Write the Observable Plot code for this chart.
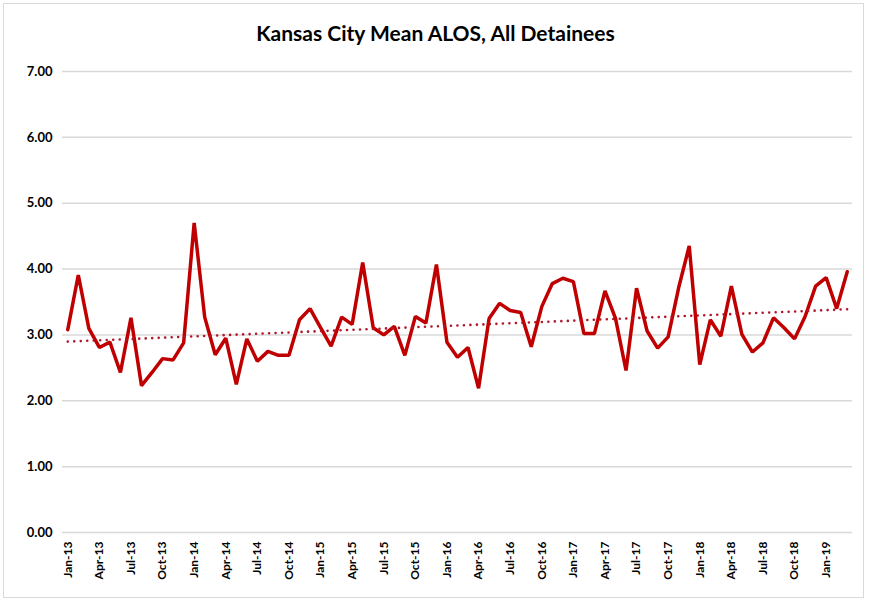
<!DOCTYPE html>
<html>
<head>
<meta charset="utf-8">
<script src="https://cdn.jsdelivr.net/npm/d3@7"></script>
<script src="https://cdn.jsdelivr.net/npm/@observablehq/plot@0.6"></script>
<style>
  html, body { margin: 0; padding: 0; background: #fff; }
  #frame { position: absolute; left: 3px; top: 3px; width: 861px; height: 595px; border: 1px solid #d9d9d9; box-sizing: border-box; }
  #wrap { position: absolute; left: 0; top: 0; width: 871px; height: 603px; }
  #title { height: 55px; box-sizing: border-box; padding-top: 20px; text-align: center; font: bold 21px Lato, "Open Sans", sans-serif; line-height: 26px; color: #000; }
  #chart svg { display: block; }
</style>
</head>
<body>
<div id="frame"></div>
<div id="wrap">
  <div id="title">Kansas City Mean ALOS, All Detainees</div>
  <div id="chart"></div>
</div>
<script>
// Monthly mean ALOS, Jan-13 .. Mar-19
const alos = [
  3.08, 3.91, 3.10, 2.81, 2.89, 2.43, 3.26, 2.23, 2.43, 2.64, 2.62, 2.88,
  4.70, 3.27, 2.70, 2.95, 2.25, 2.94, 2.60, 2.75, 2.69, 2.69, 3.23, 3.40,
  3.11, 2.83, 3.27, 3.16, 4.10, 3.11, 3.00, 3.13, 2.69, 3.28, 3.18, 4.07,
  2.89, 2.66, 2.81, 2.19, 3.25, 3.48, 3.37, 3.34, 2.82, 3.43, 3.78, 3.86,
  3.81, 3.02, 3.02, 3.67, 3.25, 2.46, 3.71, 3.06, 2.80, 2.97, 3.72, 4.35,
  2.55, 3.23, 2.98, 3.74, 3.01, 2.74, 2.88, 3.26, 3.11, 2.94, 3.28, 3.74,
  3.87, 3.40, 3.96
];
const tickLabels = [
  "Jan-13","Apr-13","Jul-13","Oct-13","Jan-14","Apr-14","Jul-14","Oct-14",
  "Jan-15","Apr-15","Jul-15","Oct-15","Jan-16","Apr-16","Jul-16","Oct-16",
  "Jan-17","Apr-17","Jul-17","Oct-17","Jan-18","Apr-18","Jul-18","Oct-18","Jan-19"
];
const yTicks = [0, 1, 2, 3, 4, 5, 6, 7];

const data = alos.map((v, i) => ({i, v}));
const tickPos = tickLabels.map((_, k) => k * 3);

const chart = Plot.plot({
  width: 871,
  height: 548,
  marginTop: 16,
  marginBottom: 71,
  marginLeft: 62,
  marginRight: 19,
  style: { fontFamily: "Lato, 'Open Sans', sans-serif", fontWeight: "bold", color: "#000", background: "transparent" },
  x: { domain: [-0.5, alos.length - 0.5] },
  y: { domain: [0, 7] },
  marks: [
    Plot.gridY(yTicks, { stroke: "#d9d9d9", strokeOpacity: 1, strokeWidth: 1.5 }),
    Plot.axisY(yTicks, { tickSize: 0, tickPadding: 10, tickFormat: d3.format(".2f"), fontSize: 13, fontWeight: "bold", label: null }),
    Plot.axisX(tickPos, { tickSize: 0, tickPadding: 9, tickRotate: -90, tickFormat: (d) => tickLabels[d / 3], fontSize: 12, fontWeight: "bold", label: null }),
    Plot.line(data, { x: "i", y: "v", stroke: "#c00000", strokeWidth: 3.5, strokeLinejoin: "miter" }),
    Plot.linearRegressionY(data, { x: "i", y: "v", ci: 0, stroke: "#b0152a", strokeWidth: 2.6, strokeDasharray: "0,6.5", strokeLinecap: "round" })
  ]
});
document.getElementById("chart").appendChild(chart);
</script>
</body>
</html>
